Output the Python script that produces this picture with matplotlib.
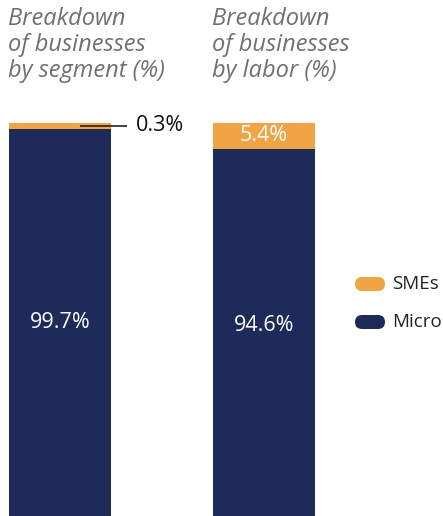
import matplotlib.pyplot as plt
from matplotlib.patches import FancyBboxPatch
from matplotlib.transforms import IdentityTransform

# Данные
titles = ["Breakdown\nof businesses\nby segment (%)", "Breakdown\nof businesses\nby labor (%)"]
micro = [99.7, 94.6]
smes = [0.3, 5.4]
series_names = ["SMEs", "Micro"]

c_sme = "#F0A444"
c_micro = "#1E2A5A"
font = "Open Sans"

fig = plt.figure(figsize=(4.43, 5.16), dpi=100)
W, H = 443, 516

# Оси: верх столбцов на y=123 px, низ обрезан краем картинки
ax = fig.add_axes([0, 0, 1, (H - 123) / H])
x = [0, 1]
ax.bar(x, micro, width=0.5, color=c_micro)
# тонкий сегмент SMEs рисуем с минимальной видимой высотой
sme_disp = [max(v, 1.25) for v in smes]
ax.bar(x, sme_disp, width=0.5, bottom=[100 - v for v in sme_disp], color=c_sme)
ax.set_xlim(-60 / 204, (W - 60) / 204)
ax.set_ylim(18.3, 100)
ax.axis("off")

# Подписи значений
ax.text(0, 58.6, f"{micro[0]}%", color="white", ha="center", va="center",
        fontsize=15.5, family=font)
ax.text(1, 58.0, f"{micro[1]}%", color="white", ha="center", va="center",
        fontsize=15.5, family=font)
ax.text(1, 100 - smes[1] / 2, f"{smes[1]}%", color="white", ha="center", va="center",
        fontsize=15.5, family=font)
# выноска для 0.3%
ax.plot([0.1, 0.33], [99.4, 99.4], color="#222222", lw=1.2, solid_capstyle="butt",
        clip_on=False)
ax.text(0.37, 99.4, f"{smes[0]}%", color="#111111", ha="left", va="center",
        fontsize=15.5, family=font)

# Заголовки
for i, t in enumerate(titles):
    fig.text((8 + 204 * i) / W, 1 - 7 / H, t, ha="left", va="top", color="#707070",
             fontsize=17, style="italic", family=font, linespacing=1.1)

# Легенда (пилюли в пикселях)
for j, (name, col) in enumerate(zip(series_names, [c_sme, c_micro])):
    yc = 284 + 38 * j
    fig.patches.append(FancyBboxPatch((355, H - yc - 7), 30, 14,
                                      boxstyle="round,pad=0,rounding_size=7",
                                      transform=IdentityTransform(), facecolor=col,
                                      edgecolor="none"))
    fig.text(392 / W, 1 - yc / H, name, ha="left", va="center", color="#222222",
             fontsize=13.5, family=font)

fig.savefig("out.png", dpi=100)
